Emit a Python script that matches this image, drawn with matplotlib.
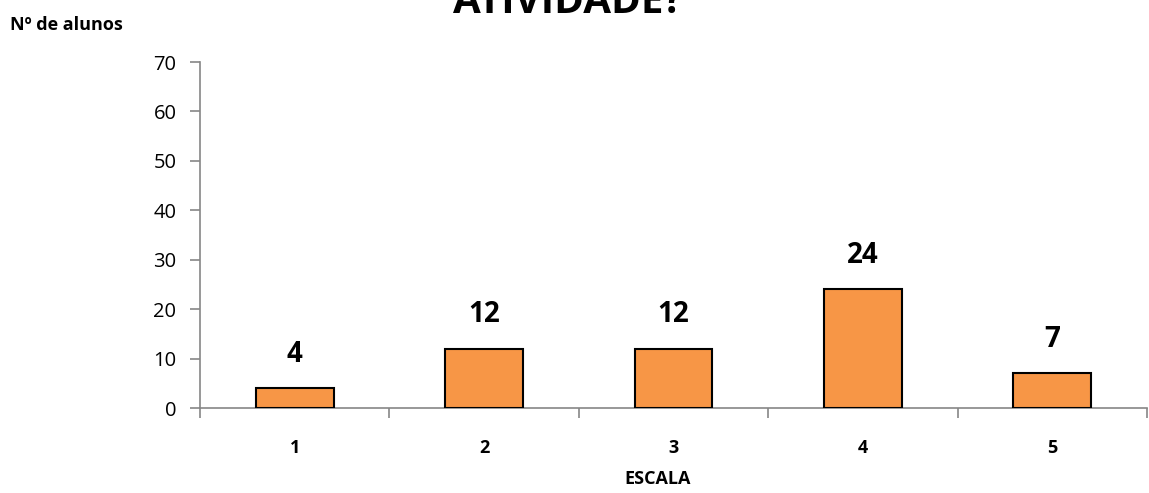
import matplotlib.pyplot as plt
import numpy as np

plt.rcParams['font.family'] = ['Open Sans', 'DejaVu Sans']

# Dados
escala = ['1', '2', '3', '4', '5']
alunos = [4, 12, 12, 24, 7]
y_ticks = [0, 10, 20, 30, 40, 50, 60, 70]

fig = plt.figure(figsize=(11.49, 4.93), dpi=100)
ax = fig.add_axes([200 / 1149, 1 - 408 / 493, 947 / 1149, 346 / 493])

x = np.arange(len(escala))
barras = ax.bar(x, alunos, width=0.41, color='#F79646', edgecolor='black', linewidth=1.5, zorder=3)

# Rótulos de dados
for xi, v in zip(x, alunos):
    ax.annotate(str(v), (xi, v), xytext=(0, 14), textcoords='offset points',
                ha='center', va='bottom', fontsize=20, fontweight='bold')

ax.set_xlim(-0.5, len(escala) - 0.5)
ax.set_ylim(0, 70)
ax.set_yticks(y_ticks)
ax.tick_params(axis='y', labelsize=14.5, length=7, color='#868686', width=1.2, pad=10)

# Marcas do eixo x entre as categorias
ax.set_xticks(np.arange(len(escala) + 1) - 0.5)
ax.set_xticklabels([''] * (len(escala) + 1))
ax.tick_params(axis='x', length=7, color='#868686', width=1.2)
for xi, lab in zip(x, escala):
    ax.text(xi, -8, lab, ha='center', va='center', fontsize=13, fontweight='bold')

for s in ['top', 'right']:
    ax.spines[s].set_visible(False)
for s in ['left', 'bottom']:
    ax.spines[s].set_color('#868686')
    ax.spines[s].set_linewidth(1.2)

fig.text(0.5725, 1 - 479 / 493, 'ESCALA', ha='center', va='center', fontsize=13, fontweight='bold')
fig.text(10 / 1149, 1 - 25 / 493, 'Nº de alunos', ha='left', va='center', fontsize=13, fontweight='bold')
fig.text(568 / 1149, 1 - 13 / 493, 'ATIVIDADE?', ha='center', va='baseline', fontsize=29, fontweight='bold')

fig.savefig('out.png', dpi=100)
